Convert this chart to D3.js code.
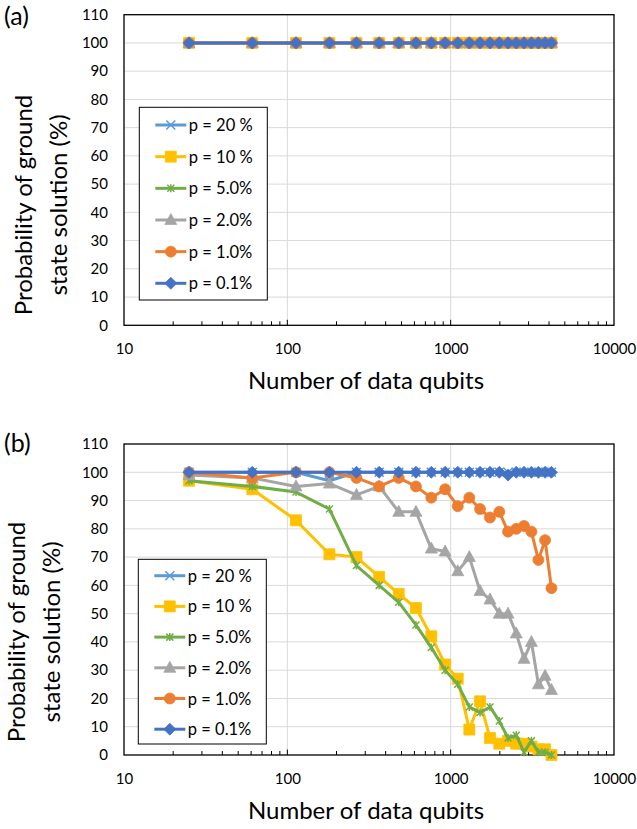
<!DOCTYPE html>
<html>
<head>
<meta charset="utf-8">
<script src="https://cdn.jsdelivr.net/npm/d3@7"></script>
<style>
html,body{margin:0;padding:0;background:#fff;overflow:hidden;}
svg{display:block;}
text{font-family:Lato,"Open Sans",sans-serif;fill:#000;}
</style>
</head>
<body>
<div id="chart"></div>
<script>
// x values: number of data qubits
var qubits=[25,61,113,181,265,365,481,613,761,925,1105,1301,1513,1741,1985,2245,2521,2813,3121,3445,3785,4141];
var seriesNames=["p = 20 %","p = 10 %","p = 5.0%","p = 2.0%","p = 1.0%","p = 0.1%"];
var yTicks=[0,10,20,30,40,50,60,70,80,90,100,110];
var xTickLabels=[10,100,1000,10000];

// panel (a)
var a_p20=[100,100,100,100,100,100,100,100,100,100,100,100,100,100,100,100,100,100,100,100,100,100];
var a_p10=[100,100,100,100,100,100,100,100,100,100,100,100,100,100,100,100,100,100,100,100,100,100];
var a_p5=[100,100,100,100,100,100,100,100,100,100,100,100,100,100,100,100,100,100,100,100,100,100];
var a_p2=[100,100,100,100,100,100,100,100,100,100,100,100,100,100,100,100,100,100,100,100,100,100];
var a_p1=[100,100,100,100,100,100,100,100,100,100,100,100,100,100,100,100,100,100,100,100,100,100];
var a_p01=[100,100,100,100,100,100,100,100,100,100,100,100,100,100,100,100,100,100,100,100,100,100];

// panel (b)
var b_p20=[100,100,100,97,100,100,100,100,100,100,100,100,100,100,100,100,100,100,100,100,100,100];
var b_p10=[97,94,83,71,70,63,57,52,42,32,27,9,19,6,4,5,4,4,3,2,2,0];
var b_p5=[97,95,93,87,67,60,54,46,38,30,25,17,15,17,12,6,7,1,5,1,1,0];
var b_p2=[99,98,95,96,92,95,86,86,73,72,65,70,58,55,50,50,43,34,40,25,28,23];
var b_p1=[100,98,100,100,98,95,98,95,91,94,88,91,87,84,86,79,80,81,79,69,76,59];
var b_p01=[100,100,100,100,100,100,100,100,100,100,100,100,100,100,100,99,100,100,100,100,100,100];

var colors=["#5b9bd5","#ffc000","#70ad47","#a5a5a5","#ed7d31","#4472c4"];
var markers=["x","square","star","triangle","circle","diamond"];

var svg=d3.select("#chart").append("svg").attr("width",637).attr("height",829);

function markerPath(type){
	if(type=="square") return "M-5.5,-5.5H5.5V5.5H-5.5Z";
	if(type=="diamond") return "M0,-6L6,0L0,6L-6,0Z";
	if(type=="triangle") return "M0,-6.5L6,4.5L-6,4.5Z";
	if(type=="x") return "M-4.5,-4.5L4.5,4.5M-4.5,4.5L4.5,-4.5";
	if(type=="star") return "M-3.5,-3.5L3.5,3.5M-3.5,3.5L3.5,-3.5M0,-4L0,4";
	return "";
}

function drawMarker(g,type,color,px,py){
	if(type=="circle"){
		g.append("circle").attr("cx",px).attr("cy",py).attr("r",5.5)
			.attr("fill",color).attr("stroke",color).attr("stroke-width",0.75);
		return;
	}
	var open=(type=="x"||type=="star");
	g.append("path").attr("d",markerPath(type))
		.attr("transform","translate("+px+","+py+")")
		.attr("fill",open?"none":color)
		.attr("stroke",color)
		.attr("stroke-width",open?1.5:0.75);
}

function drawPanel(cfg){
	var x=d3.scaleLog().domain([10,10000]).range([cfg.left,cfg.right]);
	var y=d3.scaleLinear().domain([0,110]).range([cfg.bottom,cfg.top]);
	var g=svg.append("g");

	// gridlines
	g.selectAll(".hgrid").data(yTicks.filter(function(d){return d>0&&d<110;})).enter()
		.append("line")
		.attr("x1",cfg.left).attr("x2",cfg.right)
		.attr("y1",function(d){return y(d);}).attr("y2",function(d){return y(d);})
		.attr("stroke","#d9d9d9").attr("stroke-width",1);
	g.selectAll(".vgrid").data([100,1000]).enter()
		.append("line")
		.attr("x1",function(d){return x(d);}).attr("x2",function(d){return x(d);})
		.attr("y1",cfg.top).attr("y2",cfg.bottom)
		.attr("stroke","#d9d9d9").attr("stroke-width",1);

	// minor ticks, pointing up inside the plot
	g.selectAll(".mtick").data(x.ticks().filter(function(d){return d>10&&d<10000;})).enter()
		.append("line")
		.attr("x1",function(d){return x(d);}).attr("x2",function(d){return x(d);})
		.attr("y1",cfg.bottom).attr("y2",function(d){return xTickLabels.indexOf(d)>=0?cfg.bottom-5.5:cfg.bottom-4;})
		.attr("stroke","#000").attr("stroke-width",1);

	// frame
	g.append("rect").attr("x",cfg.left).attr("y",cfg.top)
		.attr("width",cfg.right-cfg.left).attr("height",cfg.bottom-cfg.top)
		.attr("fill","none").attr("stroke","#000").attr("stroke-width",1.3);

	// axes labels
	var xAxis=d3.axisBottom(x).tickValues(xTickLabels).tickSize(0).tickPadding(18.5).tickFormat(d3.format("d"));
	var ax=g.append("g").attr("transform","translate(0,"+cfg.bottom+")").call(xAxis);
	ax.select(".domain").remove();
	ax.selectAll("text").attr("font-size",15).attr("font-family","Lato").attr("fill","#000");

	var yAxis=d3.axisLeft(y).tickValues(yTicks).tickSize(0).tickPadding(16);
	var ay=g.append("g").attr("transform","translate("+cfg.left+",0)").call(yAxis);
	ay.select(".domain").remove();
	ay.selectAll("text").attr("font-size",15).attr("font-family","Lato").attr("fill","#000");

	// series lines and markers
	var line=d3.line().x(function(d){return x(d[0]);}).y(function(d){return y(d[1]);});
	cfg.data.forEach(function(vals,i){
		var pts=qubits.map(function(q,j){return [q,vals[j]];});
		var sg=g.append("g");
		sg.append("path").datum(pts).attr("d",line)
			.attr("fill","none").attr("stroke",colors[i]).attr("stroke-width",3)
			.attr("stroke-linejoin","round");
		pts.forEach(function(p){drawMarker(sg,markers[i],colors[i],x(p[0]),y(p[1]));});
	});

	// legend
	var lg=g.append("g");
	lg.append("rect").attr("x",cfg.legLeft).attr("y",cfg.legTop)
		.attr("width",128).attr("height",cfg.legBottom-cfg.legTop)
		.attr("fill","#fff").attr("stroke","#000").attr("stroke-width",1);
	seriesNames.forEach(function(name,i){
		var ly=cfg.legFirst+i*cfg.legStep;
		lg.append("line").attr("x1",cfg.legLeft+16).attr("x2",cfg.legLeft+47)
			.attr("y1",ly).attr("y2",ly)
			.attr("stroke",colors[i]).attr("stroke-width",3);
		drawMarker(lg,markers[i],colors[i],cfg.legLeft+31.5,ly);
		lg.append("text").attr("x",cfg.legLeft+49.5).attr("y",ly+6)
			.attr("font-size",16.5).text(name);
	});

	// titles
	g.append("text").attr("x",366).attr("y",cfg.bottom+64)
		.attr("text-anchor","middle").attr("font-size",24).text("Number of data qubits");
	var yt=g.append("text").attr("transform","translate("+cfg.titleX+","+cfg.titleY+") rotate(-90)")
		.attr("text-anchor","middle").attr("font-size",24);
	yt.append("tspan").attr("x",0).attr("y",0).text("Probability of ground");
	yt.append("tspan").attr("x",0).attr("y",34.5).text("state solution (%)");

	g.append("text").attr("x",4).attr("y",cfg.labelY).attr("font-size",25).text(cfg.label);
}

drawPanel({
	top:14.7,bottom:325.3,left:124,right:614,
	data:[a_p20,a_p10,a_p5,a_p2,a_p1,a_p01],
	legLeft:139.3,legTop:107.3,legBottom:300,legFirst:125,legStep:31.66,
	titleX:32,titleY:205,label:"(a)",labelY:25
});
drawPanel({
	top:444,bottom:755,left:124,right:614,
	data:[b_p20,b_p10,b_p5,b_p2,b_p1,b_p01],
	legLeft:138.3,legTop:559.3,legBottom:744,legFirst:575.7,legStep:30.7,
	titleX:25,titleY:632,label:"(b)",labelY:452
});
</script>
</body>
</html>
